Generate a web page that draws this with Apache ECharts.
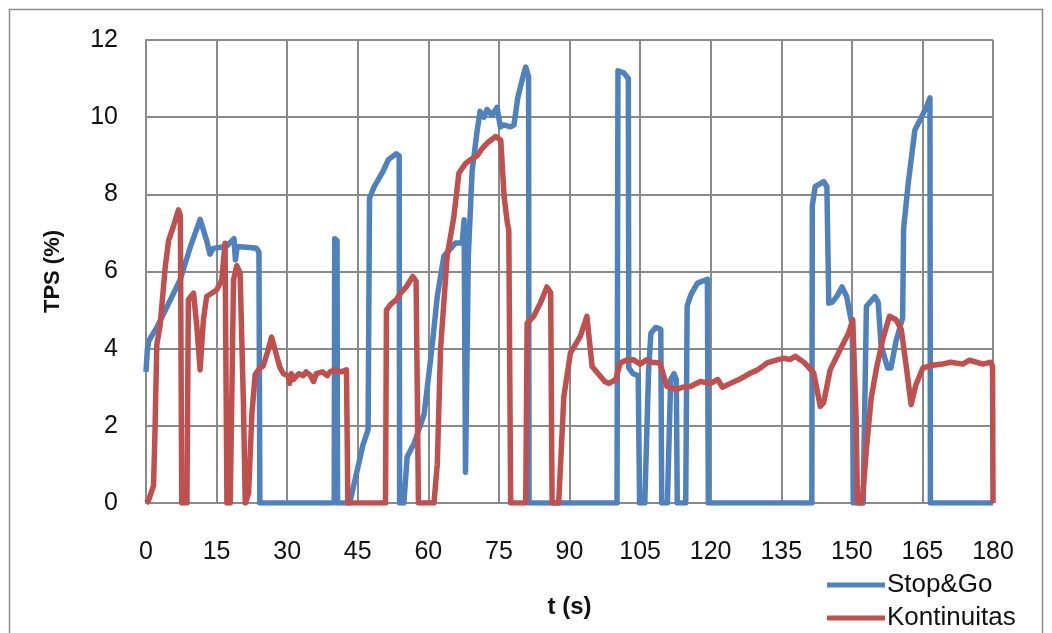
<!DOCTYPE html>
<html>
<head>
<meta charset="utf-8">
<script src="https://cdn.jsdelivr.net/npm/echarts@6/dist/echarts.min.js"></script>
<style>
html,body{margin:0;padding:0;background:#fff;}
#chart{width:1052px;height:633px;}
</style>
</head>
<body>
<div id="chart"></div>
<script>
// ---- data ----
var xTicks = [0, 15, 30, 45, 60, 75, 90, 105, 120, 135, 150, 165, 180];
var yTicks = [0, 2, 4, 6, 8, 10, 12];
var seriesNames = ['Stop&Go', 'Kontinuitas'];

var stopGoT = [0,0.3,0.6,2.3,4.4,7.3,9.4,11.5,12.9,13.6,14.3,17.1,18.7,19.0,19.4,22.0,23.5,24.0,24.2,
  40.0,40.1,40.6,40.7,43.3,46.1,47.2,47.5,48.5,50.4,51.5,53.2,53.8,53.9,54.8,55.5,57.0,59.1,60.8,61.9,63.3,
  65.8,67.2,67.6,67.9,68.5,69.3,70.4,71.0,71.8,72.5,73.5,74.6,75.3,76.0,77.5,78.2,79.0,80.3,80.7,81.3,81.4,
  100.1,100.3,101.5,102.5,102.6,103.5,104.6,104.9,106.0,106.8,107.3,108.3,109.4,109.6,110.8,111.5,112.2,112.7,112.9,
  114.7,115.0,115.8,117.2,119.3,119.5,141.5,141.6,142.2,144.0,144.7,145.1,145.8,146.8,147.9,148.9,149.6,150.1,150.3,
  152.4,153.1,154.9,155.6,156.2,157.6,158.3,159.4,160.8,161.0,162.0,163.4,164.8,165.8,166.6,166.7,180];
var stopGoV = [3.4,4.0,4.2,4.55,5.07,5.8,6.63,7.35,6.8,6.45,6.6,6.65,6.85,6.3,6.65,6.62,6.6,6.5,0,
  0,6.85,6.8,0,0,1.5,1.9,7.9,8.2,8.6,8.9,9.05,9.0,0,0,1.2,1.55,2.3,4.06,5.35,6.4,
  6.74,6.74,7.34,0.8,6.4,8.6,9.67,10.15,10.0,10.2,10.05,10.25,9.75,9.8,9.75,9.8,10.5,11.14,11.3,11.05,0,
  0,11.2,11.15,11.0,3.5,3.35,3.3,0,0,3.4,4.4,4.55,4.5,0,0,3.2,3.35,3.2,0,
  0,5.1,5.4,5.7,5.8,0,0,7.7,8.2,8.33,8.2,5.18,5.2,5.35,5.6,5.35,4.9,4.6,0,
  0,5.1,5.35,5.2,4.1,3.5,3.5,4.2,4.8,7.1,8.3,9.67,10.0,10.25,10.5,0,0];

var kontT = [0,0.5,1.6,1.9,2.3,3.0,4.1,4.8,5.8,6.9,7.3,7.6,8.7,9.0,10.1,10.8,11.5,12.2,12.9,15.0,16.1,16.8,17.2,
  17.9,18.6,19.3,20.0,20.7,21.1,21.8,22.5,23.2,24.2,24.9,25.8,26.7,27.8,28.5,29.2,30.2,30.5,30.9,31.3,32.5,
  33.4,34.0,35.0,35.6,36.2,37.5,38.5,39.1,40.2,41.5,42.6,42.9,50.9,51.1,52.0,53.2,54.1,55.3,56.7,57.4,57.9,
  61.2,61.9,62.6,64.0,65.4,66.5,67.9,69.0,70.4,71.5,72.5,74.3,75.4,76.1,76.8,77.1,77.5,80.7,81.0,82.4,83.8,
  85.2,86.0,86.3,87.7,88.8,90.2,92.3,93.7,94.8,96.6,97.5,98.4,99.8,100.8,102.0,103.6,105.0,106.4,107.5,109.2,
  110.7,112.8,114.0,115.7,117.8,120.0,121.5,122.5,124.2,126.0,128.5,130.0,132.0,134.1,135.5,136.9,138.0,139.8,
  141.9,143.3,144.0,145.4,147.5,149.3,150.2,150.9,151.2,152.2,153.1,154.1,155.2,156.6,158.0,159.4,160.5,161.5,
  162.6,163.6,165.1,167.2,169.3,171.0,173.6,175.0,177.9,179.5,179.9,180];
var kontV = [0,0.05,0.45,1.8,4.1,4.6,6.13,6.8,7.16,7.6,7.45,0,0,5.27,5.44,4.58,3.45,4.75,5.35,5.52,5.78,6.73,0,
  0,5.78,6.15,5.95,2.6,0,0.25,2.3,3.33,3.5,3.55,3.9,4.3,3.8,3.5,3.35,3.3,3.1,3.35,3.2,3.35,
  3.3,3.4,3.3,3.15,3.35,3.4,3.3,3.4,3.45,3.4,3.45,0,0,5.0,5.15,5.27,5.44,5.6,5.87,5.75,0,
  0,1.0,4.0,6.4,7.4,8.55,8.8,8.9,9.0,9.2,9.33,9.5,9.4,7.94,7.25,7.08,0,0,4.66,4.84,5.18,
  5.6,5.45,0,0,2.76,3.89,4.32,4.84,3.54,3.28,3.15,3.1,3.2,3.63,3.7,3.71,3.6,3.71,3.65,3.63,
  3.02,2.94,3.0,3.02,3.15,3.1,3.2,3.0,3.1,3.2,3.37,3.45,3.63,3.71,3.75,3.72,3.8,3.65,
  3.37,2.5,2.6,3.45,3.97,4.4,4.75,2.2,0,0,1.4,2.7,3.47,4.25,4.84,4.75,4.5,3.6,
  2.55,3.06,3.5,3.57,3.6,3.65,3.6,3.7,3.6,3.65,3.55,0];

function zip(t, v) { return t.map(function (x, i) { return [x, v[i]]; }); }

var chart = echarts.init(document.getElementById('chart'), null, {renderer: 'canvas'});
var FONT = 'Liberation Sans, Arial, sans-serif';
var legendBase = {
  orient: 'horizontal', left: 827, icon: 'rect', itemWidth: 58, itemHeight: 5, itemGap: 0,
  padding: 0,
  textStyle: {fontFamily: FONT, fontSize: 26, color: '#111', lineHeight: 26, padding: [0, 0, 0, -3]}
};
chart.setOption({
  animation: false,
  backgroundColor: '#fff',
  graphic: [{
    type: 'rect', z: -1, silent: true,
    shape: {x: 9.5, y: 9.5, width: 1033, height: 640},
    style: {fill: 'none', stroke: '#8a8a8a', lineWidth: 1.5}
  }],
  grid: {left: 146, top: 40, width: 847, height: 463, containLabel: false},
  legend: [
    Object.assign({}, legendBase, {top: 572, data: [seriesNames[0]]}),
    Object.assign({}, legendBase, {top: 605, data: [seriesNames[1]]})
  ],
  xAxis: {
    type: 'value', min: xTicks[0], max: xTicks[xTicks.length - 1], interval: 15,
    name: 't (s)', nameLocation: 'middle', nameGap: 92,
    nameTextStyle: {fontFamily: FONT, fontSize: 24, fontWeight: 'bold', color: '#111'},
    axisLine: {show: true, onZero: false, lineStyle: {color: '#8a8a8a', width: 2}},
    axisTick: {show: false},
    axisLabel: {fontFamily: FONT, fontSize: 25, color: '#111', margin: 37},
    splitLine: {show: true, lineStyle: {color: '#8a8a8a', width: 2}}
  },
  yAxis: {
    type: 'value', min: yTicks[0], max: yTicks[yTicks.length - 1], interval: 2,
    name: 'TPS (%)', nameLocation: 'middle', nameGap: 82, nameRotate: 90,
    nameTextStyle: {fontFamily: FONT, fontSize: 22, fontWeight: 'bold', color: '#111'},
    axisLine: {show: true, lineStyle: {color: '#8a8a8a', width: 2}},
    axisTick: {show: false},
    axisLabel: {fontFamily: FONT, fontSize: 25, color: '#111', margin: 28},
    splitLine: {show: true, lineStyle: {color: '#8a8a8a', width: 2}}
  },
  series: [{
    name: seriesNames[0], type: 'line', data: zip(stopGoT, stopGoV),
    symbol: 'none', color: '#4F81BD',
    lineStyle: {width: 5.5, color: '#4F81BD', join: 'round'}
  }, {
    name: seriesNames[1], type: 'line', data: zip(kontT, kontV),
    symbol: 'none', color: '#C0504D',
    lineStyle: {width: 5.5, color: '#C0504D', join: 'round'}
  }]
});
</script>
</body>
</html>
